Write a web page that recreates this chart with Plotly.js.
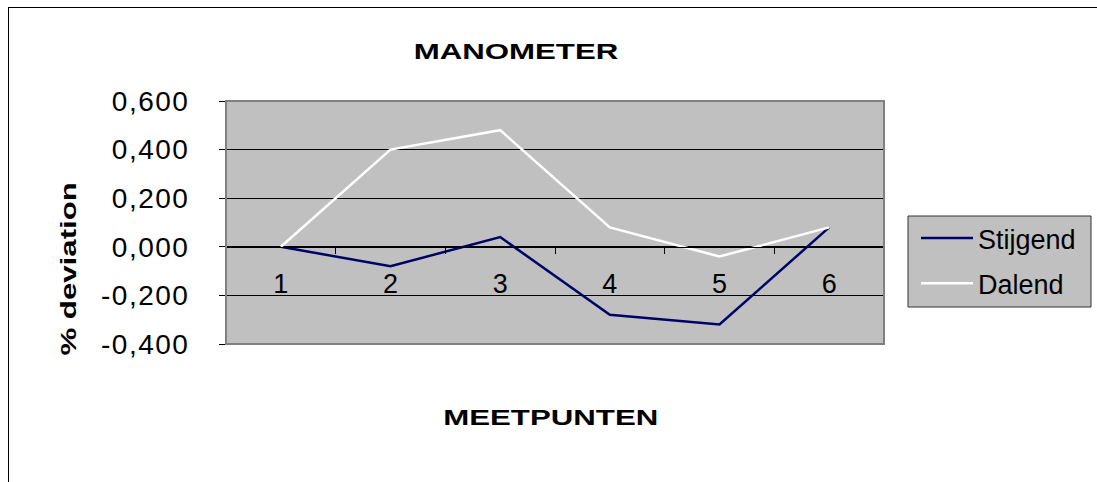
<!DOCTYPE html>
<html>
<head>
<meta charset="utf-8">
<script src="https://cdn.plot.ly/plotly-3.0.1.min.js"></script>
<style>
html,body{margin:0;padding:0;background:#fff;}
#chart{width:1097px;height:482px;}
#chart text.gtitle, #chart text.annotation-text{transform-box:fill-box;transform-origin:center;transform:scaleX(1.42);}
#chart .ytick text{letter-spacing:1.5px;}
</style>
</head>
<body>
<div id="chart"></div>
<script>
const categories = ['1', '2', '3', '4', '5', '6'];
const stijgend = [0.00, -0.08, 0.04, -0.28, -0.32, 0.08];
const dalend = [0.00, 0.40, 0.48, 0.08, -0.04, 0.08];
const yTicks = [-0.4, -0.2, 0, 0.2, 0.4, 0.6];
const yTickText = ['-0,400', '-0,200', '0,000', '0,200', '0,400', '0,600'];

const font = 'Liberation Sans, Arial, sans-serif';
const traces = [
  {x: categories, y: stijgend, name: 'Stijgend', type: 'scatter', mode: 'lines',
   legendgroup: 'a', line: {color: '#000066', width: 2.5}},
  {x: categories, y: dalend, name: 'Dalend', type: 'scatter', mode: 'lines',
   legendgroup: 'b', line: {color: '#ffffff', width: 2.5}}
];
const L = 226, R = 884, T = 101, B = 344, W = 1097, H = 482;
const px = v => (v - L) / (R - L);
const py = v => (B - v) / (B - T);
const layout = {
  width: W, height: H,
  margin: {l: L, r: W - R, t: T, b: H - B, pad: 0},
  paper_bgcolor: '#ffffff',
  plot_bgcolor: '#c0c0c0',
  font: {family: font, color: '#000'},
  separators: ',.',
  showlegend: true,
  title: {text: 'MANOMETER', font: {size: 22, family: font, color: '#000', weight: 'bold'},
          x: 516 / W, xanchor: 'center', xref: 'container', y: 1 - 51 / H, yanchor: 'middle', yref: 'container'},
  xaxis: {
    type: 'category', range: [-0.5, 5.5],
    anchor: 'free', position: 0.4,
    showline: true, linecolor: '#000', linewidth: 1,
    ticks: 'outside', tickson: 'boundaries', ticklen: 6, tickcolor: '#000',
    tickfont: {size: 27, family: font, color: '#000'},
    ticklabelstandoff: 13,
    showgrid: false, zeroline: false, fixedrange: true
  },
  yaxis: {
    range: [-0.4, 0.6], tickvals: yTicks, ticktext: yTickText,
    showline: true, linecolor: '#000', linewidth: 1,
    ticks: 'outside', ticklen: 6, tickcolor: '#000',
    tickfont: {size: 28, family: font, color: '#000'},
    ticklabelstandoff: 24,
    showgrid: true, gridcolor: '#000', gridwidth: 1,
    zeroline: false, fixedrange: true
  },
  legend: {
    x: px(916), y: py(214), xanchor: 'left', yanchor: 'top',
    bgcolor: 'rgba(0,0,0,0)', borderwidth: 0,
    traceorder: 'grouped', tracegroupgap: 7, itemwidth: 52,
    font: {size: 27, family: font, color: '#000'}
  },
  annotations: [
    {text: '<b>% deviation</b>', xref: 'paper', yref: 'paper', x: px(68), y: py(269),
     xanchor: 'center', yanchor: 'middle', textangle: -90, showarrow: false,
     font: {size: 22, family: font, color: '#000'}},
    {text: '<b>MEETPUNTEN</b>', xref: 'paper', yref: 'paper', x: px(551), y: py(417),
     xanchor: 'center', yanchor: 'middle', showarrow: false,
     font: {size: 22, family: font, color: '#000'}}
  ],
  shapes: [
    {type: 'rect', xref: 'paper', yref: 'paper', x0: 0, x1: 1, y0: 0, y1: 1,
     line: {color: '#808080', width: 2}, layer: 'above'},
    {type: 'rect', xref: 'paper', yref: 'paper', x0: px(908), x1: px(1091), y0: py(216), y1: py(307),
     fillcolor: '#c0c0c0', line: {color: '#333', width: 1}, layer: 'below'},
    {type: 'line', xref: 'paper', yref: 'paper', x0: px(8.5), x1: px(8.5), y0: py(7), y1: py(490),
     line: {color: '#000', width: 1}},
    {type: 'line', xref: 'paper', yref: 'paper', x0: px(8), x1: px(1100), y0: py(7.5), y1: py(7.5),
     line: {color: '#000', width: 1}}
  ]
};
Plotly.newPlot('chart', traces, layout, {displayModeBar: false, staticPlot: true});
</script>
</body>
</html>
